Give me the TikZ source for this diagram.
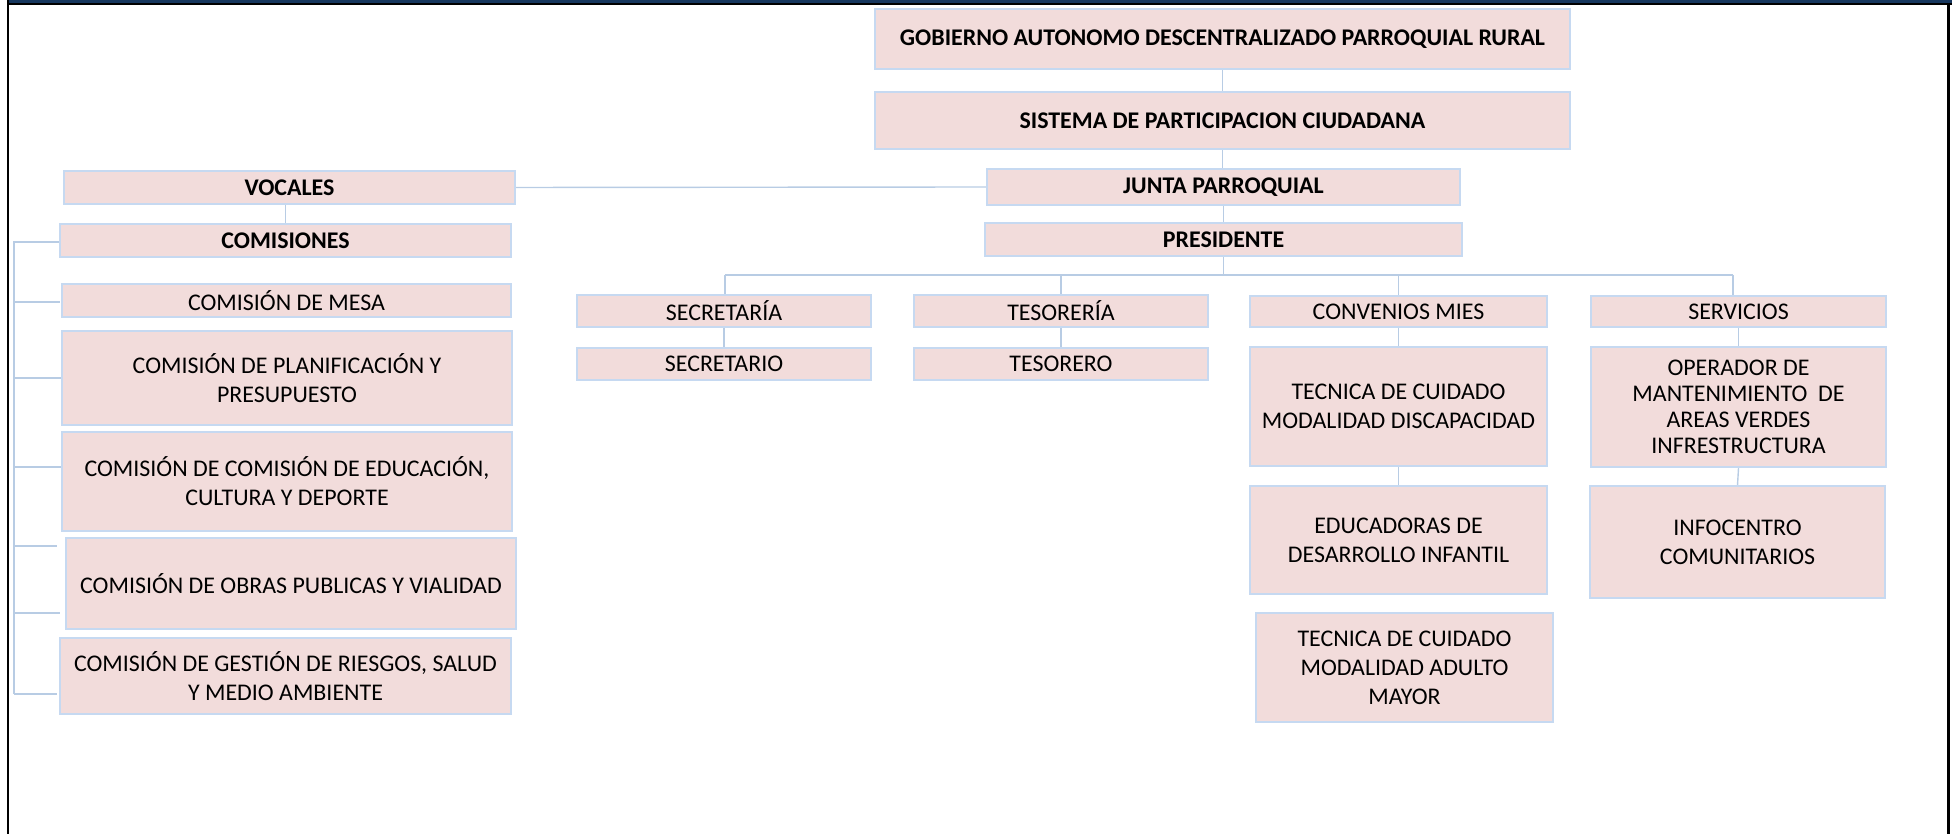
\documentclass[tikz,border=0pt]{standalone}
\usepackage{fontspec}
\setmainfont{Carlito}
\definecolor{boxfill}{HTML}{F2DCDB}
\definecolor{boxline}{HTML}{C6D9F1}
\definecolor{conn}{HTML}{B8CCE4}
\definecolor{navy}{HTML}{17375E}
\begin{document}
\begin{tikzpicture}[x=0.01cm,y=-0.01cm,
  box/.style={draw=boxline,fill=boxfill,line width=0.6pt,inner sep=0pt,align=center,
    font=\fontsize{6.8pt}{8.2pt}\selectfont},
  bbox/.style={box,font=\fontsize{6.8pt}{8.2pt}\selectfont\bfseries},
  link/.style={draw=conn,line width=0.4pt}]
\useasboundingbox (0,0) rectangle (1952,834);
% frame
\fill[navy] (9,0) rectangle (1952,3);
\fill[black] (9,3) rectangle (1952,5);
\fill[black] (7,0) rectangle (9,834);
\fill[black] (1947,3) rectangle (1950,834);
% top hierarchy
\node[bbox,minimum width=6.95cm,minimum height=0.60cm] (gob) at (1222.5,39) {GOBIERNO AUTONOMO DESCENTRALIZADO PARROQUIAL RURAL};
\node[bbox,minimum width=6.95cm,minimum height=0.57cm] (sis) at (1222.5,120.5) {SISTEMA DE PARTICIPACION CIUDADANA};
\node[bbox,minimum width=4.73cm,minimum height=0.36cm] (junta) at (1223.5,187) {JUNTA PARROQUIAL};
\node[bbox,minimum width=4.77cm,minimum height=0.33cm] (pres) at (1223.5,239.5) {PRESIDENTE};
\node[bbox,minimum width=4.51cm,minimum height=0.33cm] (voc) at (289.5,187.5) {VOCALES};
\node[bbox,minimum width=4.51cm,minimum height=0.33cm] (com) at (285.5,240.5) {COMISIONES};
% comisiones
\node[box,minimum width=4.49cm,minimum height=0.33cm] (mesa) at (286.5,300.5) {COMISIÓN DE MESA};
\node[box,minimum width=4.50cm,minimum height=0.94cm] (plan) at (287,378) {COMISIÓN DE PLANIFICACIÓN Y\\PRESUPUESTO};
\node[box,minimum width=4.50cm,minimum height=0.99cm] (edu) at (287,481.5) {COMISIÓN DE COMISIÓN DE EDUCACIÓN,\\CULTURA Y DEPORTE};
\node[box,minimum width=4.50cm,minimum height=0.91cm] (obras) at (291,583.5) {COMISIÓN DE OBRAS PUBLICAS Y VIALIDAD};
\node[box,minimum width=4.51cm,minimum height=0.76cm] (gest) at (285.5,676) {COMISIÓN DE GESTIÓN DE RIESGOS, SALUD\\Y MEDIO AMBIENTE};
% departments
\node[box,minimum width=2.94cm,minimum height=0.32cm] (secr) at (724,311) {SECRETARÍA};
\node[box,minimum width=2.94cm,minimum height=0.32cm] (secro) at (724,364) {SECRETARIO};
\node[box,minimum width=2.94cm,minimum height=0.32cm] (teso) at (1061,311) {TESORERÍA};
\node[box,minimum width=2.94cm,minimum height=0.32cm] (tesro) at (1061,364) {TESORERO};
\node[box,minimum width=2.97cm,minimum height=0.31cm] (conv) at (1398.5,311.5) {CONVENIOS MIES};
\node[box,minimum width=2.97cm,minimum height=1.19cm] (tdisc) at (1398.5,406.5) {TECNICA DE CUIDADO\\MODALIDAD DISCAPACIDAD};
\node[box,minimum width=2.97cm,minimum height=1.08cm] (educ) at (1398.5,540) {EDUCADORAS DE\\DESARROLLO INFANTIL};
\node[box,minimum width=2.97cm,minimum height=1.09cm] (tadul) at (1404.5,667.5) {TECNICA DE CUIDADO\\MODALIDAD ADULTO\\MAYOR};
\node[box,minimum width=2.95cm,minimum height=0.31cm] (serv) at (1738.5,311.5) {SERVICIOS};
\node[box,minimum width=2.95cm,minimum height=1.20cm,font=\fontsize{6.8pt}{7.4pt}\selectfont] (oper) at (1738.5,407) {OPERADOR DE\\MANTENIMIENTO~ DE\\AREAS VERDES\\INFRESTRUCTURA};
\node[box,minimum width=2.95cm,minimum height=1.12cm] (info) at (1737.5,542) {INFOCENTRO\\COMUNITARIOS};
% connectors
\draw[link] (gob.south) -- (sis.north);
\draw[link] (sis.south) -- (sis.south |- junta.north);
\draw[link] (junta.south) -- (junta.south |- pres.north);
\draw[link] (voc.east) -- (junta.west);
\draw[link] (voc.south -| com.north) -- (com.north);
\coordinate (busL) at (725,275);
\coordinate (busR) at (1733,275);
\draw[link] (pres.south) -- (pres.south |- busL);
\draw[link] (busL) -- (busR);
\draw[link] (busL) -- (busL |- secr.north);
\draw[link] (teso.north |- busL) -- (teso.north);
\draw[link] (conv.north |- busL) -- (conv.north);
\draw[link] (busR) -- (busR |- serv.north);
\draw[link] (secr.south) -- (secro.north);
\draw[link] (teso.south) -- (tesro.north);
\draw[link] (conv.south) -- (tdisc.north);
\draw[link] (tdisc.south) -- (educ.north);
\draw[link] (serv.south) -- (oper.north);
\draw[link] (oper.south) -- (info.north);
% comisiones spine
\coordinate (sp0) at (14,242);
\coordinate (sp6) at (14,694);
\draw[link] (com.west |- sp0) -- (sp0) -- (sp6);
\foreach \yy/\xe in {302/60,378/61,467/61,546/57,613/60,694/57}
  \draw[link] (14,\yy) -- (\xe,\yy);
\end{tikzpicture}
\end{document}
